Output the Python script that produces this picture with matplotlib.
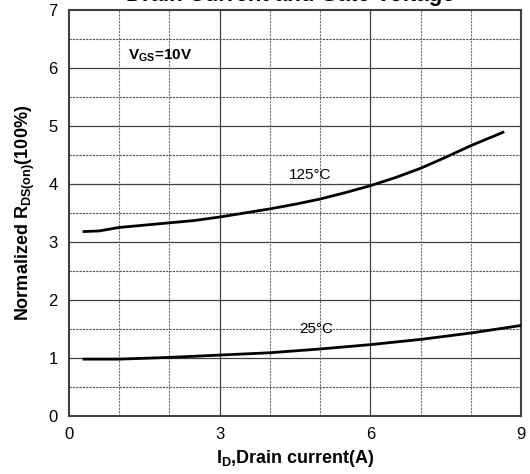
import matplotlib
matplotlib.use('Agg')
import matplotlib.pyplot as plt
import numpy as np

plt.rcParams['font.family'] = ['Liberation Sans', 'DejaVu Sans']
plt.rcParams['mathtext.fontset'] = 'custom'
plt.rcParams['mathtext.rm'] = 'Liberation Sans'
plt.rcParams['mathtext.bf'] = 'Liberation Sans:bold'

# drain current (A) and normalized on-resistance
id_125 = [0.3, 0.6, 1.0, 1.5, 2.0, 2.5, 3.0, 3.5, 4.0, 4.5, 5.0, 5.5, 6.0, 6.5, 7.0, 7.5, 8.0, 8.64]
rds_125 = [3.18, 3.19, 3.25, 3.29, 3.33, 3.37, 3.43, 3.50, 3.57, 3.65, 3.74, 3.85, 3.97, 4.11, 4.27, 4.46, 4.66, 4.89]
id_25 = [0.3, 1.0, 2.0, 3.0, 4.0, 5.0, 6.0, 7.0, 8.0, 9.0]
rds_25 = [0.98, 0.98, 1.01, 1.05, 1.09, 1.155, 1.23, 1.32, 1.43, 1.56]

xticks = [0, 3, 6, 9]
yticks = [0, 1, 2, 3, 4, 5, 6, 7]

fig = plt.figure(figsize=(5.3, 4.74), dpi=100)
ax = fig.add_axes([0.130, 0.1224, 0.853, 0.8566])

# grid: solid on the major values, dashed in between
for y in np.arange(0.5, 7, 0.5):
    if y % 1 == 0:
        ax.axhline(y, color='#404040', lw=0.9, zorder=1)
    else:
        ax.axhline(y, color='#505050', lw=0.8, ls=(0, (2, 1)), zorder=1)
for x in range(1, 9):
    if x % 3 == 0:
        ax.axvline(x, color='#404040', lw=0.9, zorder=1)
    else:
        ax.axvline(x, color='#707070', lw=0.8, ls=(0, (2, 1)), zorder=1)

ax.plot(id_125, rds_125, color='black', lw=2, zorder=3)
ax.plot(id_25, rds_25, color='black', lw=2, zorder=3)

ax.text(4.8, 4.16, '125°C', fontsize=11, ha='center', va='center')
ax.text(4.92, 1.5, '25°C', fontsize=11, ha='center', va='center')
ax.text(1.18, 6.21, r'V$_{\mathbf{GS}}$=10V', fontsize=11, fontweight='bold', ha='left', va='center')

ax.set_xlim(0, 9)
ax.set_ylim(0, 7)
ax.set_xticks(xticks)
ax.set_yticks(yticks)
ax.tick_params(length=0, labelsize=12, pad=8)

for s in ax.spines.values():
    s.set_color('#404040')
    s.set_linewidth(1.5)

ax.set_xlabel(r'I$_{\mathbf{D}}$,Drain current(A)', fontsize=13, fontweight='bold')
ax.set_ylabel(r'Normalized R$_{\mathbf{DS(on)}}$(100%)', fontsize=13, fontweight='bold', labelpad=8)

# title sits mostly above the canvas
fig.text(0.548, 0.998, 'Drain Current and Gate Voltage', fontsize=16, fontweight='bold',
         ha='center', va='baseline')

fig.savefig('out.png', dpi=100)
